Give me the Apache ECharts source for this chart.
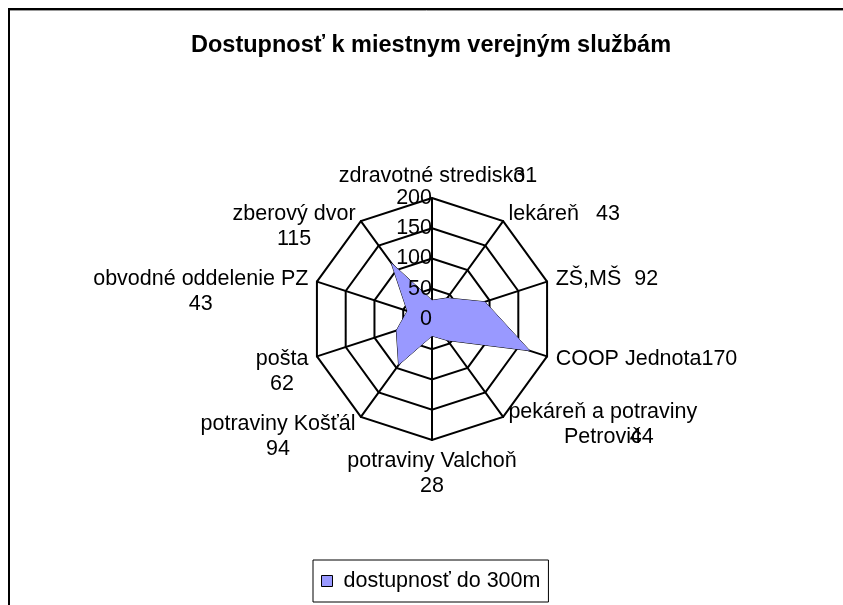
<!DOCTYPE html>
<html>
<head>
<meta charset="utf-8">
<script src="https://cdn.jsdelivr.net/npm/echarts@6/dist/echarts.min.js"></script>
<style>
  html, body { margin: 0; padding: 0; background: #fff; }
  #chart { width: 843px; height: 605px; }
</style>
</head>
<body>
<div id="chart"></div>
<script>
// data, clockwise from the top as in the picture
const categories = ['zdravotné stredisko', 'lekáreň', 'ZŠ,MŠ', 'COOP Jednota', 'pekáreň a potraviny\nPetrovič',
  'potraviny Valchoň', 'potraviny Košťál', 'pošta', 'obvodné oddelenie PZ', 'zberový dvor'];
const values = [31, 43, 92, 170, 44, 28, 94, 62, 43, 115];
const seriesName = 'dostupnosť do 300m';
const axisMax = 200;
const axisStep = 50;
const titleText = 'Dostupnosť k miestnym verejným službám';

const FONT = '"Liberation Sans", Arial, sans-serif';
const FS = 21.5;

// radar runs counter-clockwise, so feed it in reverse (keep first on top)
const order = categories.map((c, i) => (categories.length - i) % categories.length);

// gap between name and value on the right-hand labels
const rightGap = { 1: 17, 2: 13, 3: 0 };

function nameFormatter(name) {
  const i = categories.indexOf(name);
  const v = values[i];
  if (i === 0) {
    return '{n|' + name + '}{z|' + v + '}';
  }
  if (i === 4) {
    const parts = name.split('\n');
    return '{n|' + parts[0] + '}\n{m|' + parts[1] + '}{z|' + v + '}';
  }
  if (i < 4) {
    return '{n|' + name + '}{g' + i + '|' + v + '}';
  }
  if (i === 5) {
    return '{n|' + name + '}\n{n|' + v + '}';
  }
  return '{s| }\n{n|' + name + '}\n{c|' + v + '}';
}

const base = { fontSize: FS, fontFamily: FONT, color: '#000', lineHeight: 25 };
const rich = {
  n: Object.assign({}, base),
  m: Object.assign({ align: 'center' }, base),
  z: Object.assign({ width: 0, align: 'center' }, base),
  c: Object.assign({ align: 'center' }, base),
  s: Object.assign({}, base)
};
Object.keys(rightGap).forEach(k => {
  rich['g' + k] = Object.assign({ padding: [0, 0, 0, rightGap[k]] }, base);
});

const chart = echarts.init(document.getElementById('chart'));

const option = {
  backgroundColor: '#fff',
  animation: false,
  textStyle: { fontFamily: FONT },
  title: {
    text: titleText,
    left: 191,
    top: 34,
    padding: 0,
    textStyle: { fontSize: 23.5, fontWeight: 'bold', color: '#000', fontFamily: FONT }
  },
  legend: {
    data: [seriesName],
    left: 313,
    top: 560,
    padding: [10, 8, 10, 8],
    borderColor: '#000',
    borderWidth: 1,
    borderRadius: 0,
    icon: 'rect',
    itemWidth: 11,
    itemHeight: 11,
    itemStyle: { borderColor: '#000', borderWidth: 1 },
    textStyle: { fontSize: 21.5, color: '#000', fontFamily: FONT, padding: [0, 0, 0, 6] }
  },
  radar: {
    center: [432, 319],
    radius: 121,
    startAngle: 90,
    shape: 'polygon',
    splitNumber: axisMax / axisStep,
    nameGap: 9,
    indicator: order.map(i => ({ name: categories[i], min: 0, max: axisMax })),
    axisName: {
      color: '#000',
      fontSize: FS,
      fontFamily: FONT,
      formatter: nameFormatter,
      rich: rich
    },
    axisLine: { lineStyle: { color: '#000', width: 2 } },
    splitLine: { lineStyle: { color: '#000', width: 2 } },
    splitArea: { show: false },
    axisLabel: { show: false },
    axisTick: { show: false }
  },
  // polar only used to print the 0..200 scale along the top spoke
  polar: { center: [432, 319], radius: [0, 121] },
  angleAxis: { show: false, startAngle: 90, min: 0, max: 360 },
  radiusAxis: {
    type: 'value',
    z: 10,
    min: 0,
    max: axisMax,
    interval: axisStep,
    axisLine: { show: false },
    axisTick: { show: false },
    splitLine: { show: false },
    axisLabel: { color: '#000', fontSize: FS, fontFamily: FONT, margin: 0 }
  },
  graphic: [
    {
      type: 'rect',
      shape: { x: 9, y: 9, width: 900, height: 700 },
      style: { fill: 'none', stroke: '#000', lineWidth: 2 }
    },
    {
      type: 'line',
      shape: { x1: 10, y1: 10.5, x2: 843, y2: 10.5 },
      style: { stroke: '#999', lineWidth: 1 }
    }
  ],
  series: [
    {
      name: seriesName,
      type: 'radar',
      symbol: 'none',
      lineStyle: { color: '#000', width: 1 },
      itemStyle: { color: '#9999ff', borderColor: '#000' },
      areaStyle: { color: '#9999ff', opacity: 1 },
      data: [{ name: seriesName, value: order.map(i => values[i]) }]
    }
  ]
};

chart.setOption(option);
</script>
</body>
</html>
